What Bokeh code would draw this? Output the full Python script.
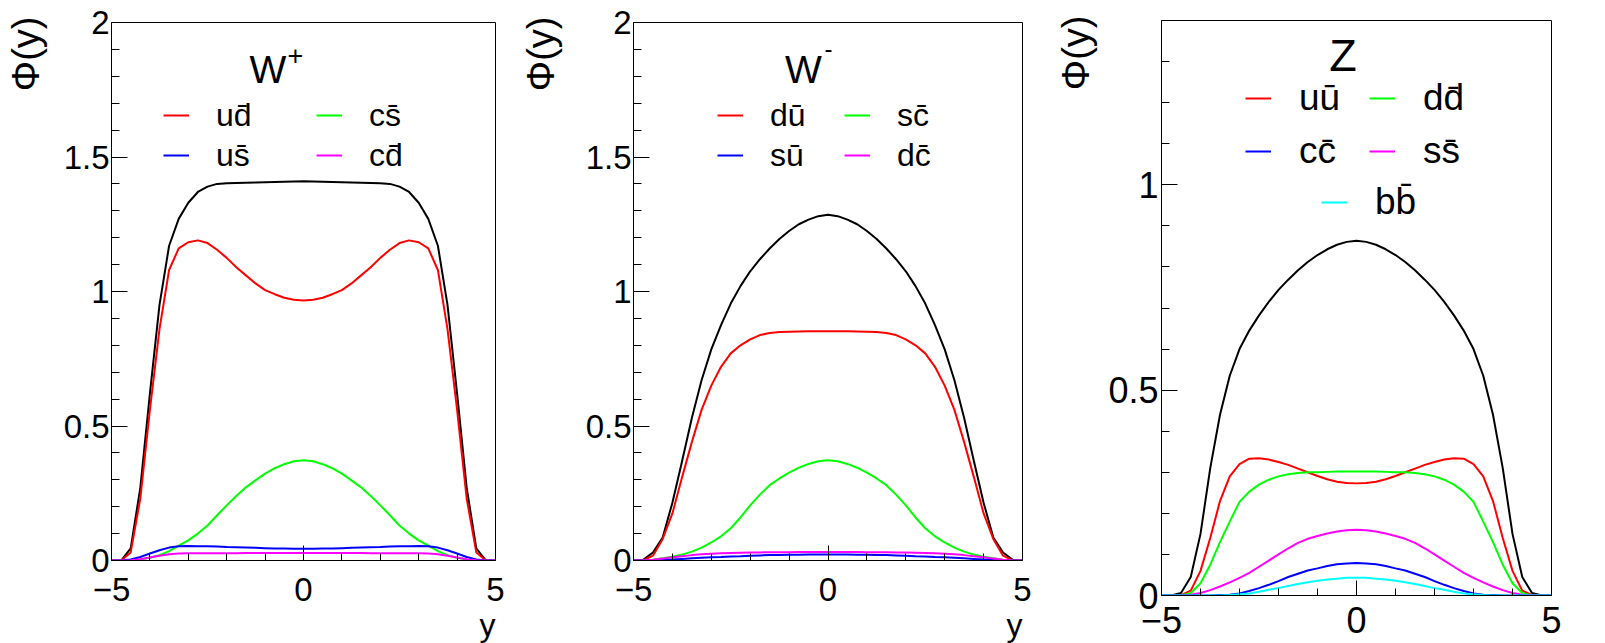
from bokeh.plotting import figure
from bokeh.models import Range1d, FixedTicker, Legend, LegendItem, Label, Title
from bokeh.layouts import row, column
from bokeh.embed import file_html
from bokeh.resources import INLINE

FONT = "Liberation Sans"

# rapidity sample points
RAPIDITY = [-5.0, -4.75, -4.5, -4.25, -4.0, -3.75, -3.5, -3.25, -3.0, -2.75, -2.5,
            -2.25, -2.0, -1.75, -1.5, -1.25, -1.0, -0.75, -0.5, -0.25, 0.0,
            0.25, 0.5, 0.75, 1.0, 1.25, 1.5, 1.75, 2.0, 2.25, 2.5,
            2.75, 3.0, 3.25, 3.5, 3.75, 4.0, 4.25, 4.5, 4.75, 5.0]

# ---- W+ ----
WP_TOTAL = [0, 0, 0.045, 0.27, 0.62, 0.95, 1.17, 1.27, 1.33, 1.37, 1.39, 1.40, 1.402, 1.403, 1.404, 1.405, 1.406, 1.407, 1.408, 1.409, 1.41,
            1.409, 1.408, 1.407, 1.406, 1.405, 1.404, 1.403, 1.402, 1.40, 1.39, 1.37, 1.33, 1.27, 1.17, 0.95, 0.62, 0.27, 0.045, 0, 0]
WP_UD = [0, 0, 0.03, 0.23, 0.56, 0.86, 1.08, 1.16, 1.183, 1.19, 1.18, 1.155, 1.125, 1.09, 1.06, 1.03, 1.005, 0.99, 0.977, 0.969, 0.967,
         0.969, 0.977, 0.99, 1.005, 1.03, 1.06, 1.09, 1.125, 1.155, 1.18, 1.19, 1.183, 1.16, 1.08, 0.86, 0.56, 0.23, 0.03, 0, 0]
WP_CS = [0, 0, 0.001, 0.004, 0.01, 0.02, 0.035, 0.055, 0.075, 0.1, 0.13, 0.168, 0.205, 0.24, 0.272, 0.298, 0.323, 0.343, 0.358, 0.369, 0.373,
         0.369, 0.358, 0.343, 0.323, 0.298, 0.272, 0.24, 0.205, 0.168, 0.13, 0.1, 0.075, 0.055, 0.035, 0.02, 0.01, 0.004, 0.001, 0, 0]
WP_US = [0, 0, 0.004, 0.013, 0.026, 0.038, 0.048, 0.053, 0.054, 0.053, 0.053, 0.052, 0.05, 0.049, 0.048, 0.047, 0.046, 0.045, 0.045, 0.044, 0.044,
         0.044, 0.045, 0.045, 0.046, 0.047, 0.048, 0.049, 0.05, 0.052, 0.053, 0.053, 0.054, 0.053, 0.048, 0.038, 0.026, 0.013, 0.004, 0, 0]
WP_CD = [0, 0, 0.001, 0.005, 0.011, 0.018, 0.023, 0.026, 0.027, 0.027, 0.027, 0.027, 0.027, 0.027, 0.028, 0.028, 0.028, 0.028, 0.028, 0.028, 0.028,
         0.028, 0.028, 0.028, 0.028, 0.028, 0.028, 0.027, 0.027, 0.027, 0.027, 0.027, 0.027, 0.026, 0.023, 0.018, 0.011, 0.005, 0.001, 0, 0]

# ---- W- ----
WM_TOTAL = [0, 0.003, 0.03, 0.085, 0.215, 0.37, 0.53, 0.67, 0.785, 0.875, 0.955, 1.02, 1.075, 1.12, 1.16, 1.195, 1.225, 1.25, 1.267, 1.28, 1.285,
            1.28, 1.267, 1.25, 1.225, 1.195, 1.16, 1.12, 1.075, 1.02, 0.955, 0.875, 0.785, 0.67, 0.53, 0.37, 0.215, 0.085, 0.03, 0.003, 0]
WM_DU = [0, 0, 0.018, 0.08, 0.175, 0.31, 0.44, 0.56, 0.65, 0.72, 0.77, 0.80, 0.822, 0.838, 0.846, 0.849, 0.85, 0.851, 0.852, 0.852, 0.852,
         0.852, 0.852, 0.851, 0.85, 0.849, 0.846, 0.838, 0.822, 0.80, 0.77, 0.72, 0.65, 0.56, 0.44, 0.31, 0.175, 0.08, 0.018, 0, 0]
WM_SC = [0, 0.001, 0.003, 0.008, 0.014, 0.022, 0.033, 0.048, 0.067, 0.09, 0.12, 0.16, 0.205, 0.245, 0.28, 0.305, 0.327, 0.345, 0.359, 0.369, 0.373,
         0.369, 0.359, 0.345, 0.327, 0.305, 0.28, 0.245, 0.205, 0.16, 0.12, 0.09, 0.067, 0.048, 0.033, 0.022, 0.014, 0.008, 0.003, 0.001, 0]
WM_SU = [0, 0, 0.001, 0.002, 0.004, 0.006, 0.008, 0.01, 0.012, 0.013, 0.015, 0.016, 0.018, 0.019, 0.02, 0.02, 0.021, 0.021, 0.022, 0.022, 0.022,
         0.022, 0.022, 0.021, 0.021, 0.02, 0.02, 0.019, 0.018, 0.016, 0.015, 0.013, 0.012, 0.01, 0.008, 0.006, 0.004, 0.002, 0.001, 0, 0]
WM_DC = [0, 0, 0.003, 0.007, 0.012, 0.016, 0.02, 0.023, 0.025, 0.027, 0.028, 0.029, 0.03, 0.03, 0.031, 0.031, 0.031, 0.032, 0.032, 0.032, 0.032,
         0.032, 0.032, 0.032, 0.031, 0.031, 0.031, 0.03, 0.03, 0.029, 0.028, 0.027, 0.025, 0.023, 0.02, 0.016, 0.012, 0.007, 0.003, 0, 0]

# ---- Z ----
Z_TOTAL = [0, 0, 0.006, 0.045, 0.15, 0.31, 0.44, 0.535, 0.60, 0.645, 0.682, 0.715, 0.744, 0.769, 0.792, 0.812, 0.829, 0.843, 0.854, 0.861, 0.864,
           0.861, 0.854, 0.843, 0.829, 0.812, 0.792, 0.769, 0.744, 0.715, 0.682, 0.645, 0.60, 0.535, 0.44, 0.31, 0.15, 0.045, 0.006, 0, 0]
Z_UU = [0, 0, 0.001, 0.012, 0.06, 0.14, 0.23, 0.29, 0.32, 0.333, 0.334, 0.331, 0.325, 0.318, 0.309, 0.30, 0.291, 0.283, 0.277, 0.274, 0.273,
        0.274, 0.277, 0.283, 0.291, 0.30, 0.309, 0.318, 0.325, 0.331, 0.334, 0.333, 0.32, 0.29, 0.23, 0.14, 0.06, 0.012, 0.001, 0, 0]
Z_DD = [0, 0, 0, 0.006, 0.03, 0.075, 0.13, 0.18, 0.228, 0.253, 0.27, 0.282, 0.29, 0.295, 0.298, 0.3, 0.3, 0.301, 0.302, 0.302, 0.302,
        0.302, 0.302, 0.301, 0.3, 0.3, 0.298, 0.295, 0.29, 0.282, 0.27, 0.253, 0.228, 0.18, 0.13, 0.075, 0.03, 0.006, 0, 0, 0]
Z_SS = [0, 0, 0, 0.002, 0.006, 0.013, 0.022, 0.032, 0.043, 0.055, 0.07, 0.085, 0.1, 0.115, 0.128, 0.138, 0.145, 0.151, 0.156, 0.159, 0.16,
        0.159, 0.156, 0.151, 0.145, 0.138, 0.128, 0.115, 0.1, 0.085, 0.07, 0.055, 0.043, 0.032, 0.022, 0.013, 0.006, 0.002, 0, 0, 0]
Z_CC = [0, 0, 0, 0, 0, 0, 0.001, 0.002, 0.005, 0.011, 0.018, 0.026, 0.035, 0.045, 0.053, 0.061, 0.066, 0.072, 0.076, 0.078, 0.079,
        0.078, 0.076, 0.072, 0.066, 0.061, 0.053, 0.045, 0.035, 0.026, 0.018, 0.011, 0.005, 0.002, 0.001, 0, 0, 0, 0, 0, 0]
Z_BB = [0, 0, 0, 0, 0, 0, 0, 0.001, 0.003, 0.005, 0.009, 0.014, 0.018, 0.023, 0.028, 0.032, 0.036, 0.039, 0.041, 0.043, 0.043,
        0.043, 0.041, 0.039, 0.036, 0.032, 0.028, 0.023, 0.018, 0.014, 0.009, 0.005, 0.003, 0.001, 0, 0, 0, 0, 0, 0, 0]

X_MAJOR = [-5, 0, 5]
X_MINOR = [-4, -3, -2, -1, 1, 2, 3, 4]
Y_MAJOR_W = [0, 0.5, 1, 1.5, 2]
Y_LABELS_W = {0: "0", 0.5: "0.5", 1: "1", 1.5: "1.5", 2: "2"}
Y_MINOR_W = [0.1, 0.2, 0.3, 0.4, 0.6, 0.7, 0.8, 0.9, 1.1, 1.2, 1.3, 1.4, 1.6, 1.7, 1.8, 1.9]
Y_MAJOR_Z = [0, 0.5, 1]
Y_LABELS_Z = {0: "0", 0.5: "0.5", 1: "1"}
Y_MINOR_Z = [0.1, 0.2, 0.3, 0.4, 0.6, 0.7, 0.8, 0.9, 1.1, 1.2, 1.3]


def make_panel(width, height, left, right, top, bottom, y_max, y_major, y_labels, y_minor,
               tick_font, xtick_font, xtick_standoff, ytick_standoff, title_gap):
    p = figure(width=width, height=height, x_range=Range1d(-5, 5), y_range=Range1d(0, y_max),
               output_backend="svg", toolbar_location=None,
               min_border_left=left, min_border_right=right,
               min_border_top=top, min_border_bottom=bottom)
    p.xgrid.visible = False
    p.ygrid.visible = False
    p.outline_line_color = "black"
    p.outline_line_width = 1
    p.outline_line_alpha = 1
    p.border_fill_color = "white"
    p.background_fill_color = "white"
    xa = p.xaxis[0]
    ya = p.yaxis[0]
    xa.ticker = FixedTicker(ticks=X_MAJOR, minor_ticks=X_MINOR)
    ya.ticker = FixedTicker(ticks=y_major, minor_ticks=y_minor)
    ya.major_label_overrides = y_labels
    for ax in (xa, ya):
        ax.major_tick_out = 0
        ax.minor_tick_out = 0
        ax.axis_line_color = "black"
        ax.major_tick_line_color = "black"
        ax.minor_tick_line_color = "black"
        ax.major_label_text_font = FONT
        ax.major_label_text_color = "black"
    xa.major_tick_in = 15
    xa.minor_tick_in = 7
    ya.major_tick_in = 16
    ya.minor_tick_in = 8
    ya.major_label_text_font_size = f"{tick_font}px"
    xa.major_label_text_font_size = f"{xtick_font}px"
    ya.major_label_standoff = ytick_standoff
    xa.major_label_standoff = xtick_standoff
    # blank spacer between the tick labels and the rotated axis title
    ya.axis_label = " "
    ya.axis_label_text_font_size = "1px"
    ya.axis_label_standoff = title_gap
    return p


def add_entry(p, renderer, text, x, y_bottom, font_size, item_h, standoff):
    leg = Legend(items=[LegendItem(label=text, renderers=[renderer])], location=(x, y_bottom),
                 border_line_color=None, background_fill_alpha=0, padding=0, margin=0,
                 spacing=0, glyph_width=26, glyph_height=item_h, label_height=item_h,
                 label_standoff=standoff, label_text_font=FONT,
                 label_text_font_size=f"{font_size}px", label_text_color="black")
    p.add_layout(leg)


def add_text(p, text, x, y, size, align="left"):
    p.add_layout(Label(x=x, y=y, x_units="screen", y_units="screen", text=text,
                       text_font=FONT, text_font_size=f"{size}px", text_color="black",
                       text_align=align, text_baseline="middle"))


def add_axis_title(p, text, side, size, offset, standoff):
    p.add_layout(Title(text=text, align="right", text_font=FONT, text_font_size=f"{size}px",
                       text_font_style="normal", text_color="black", offset=offset,
                       standoff=standoff), side)


BAR = "\u0304"

# ---------- panel 1: W+ ----------
p1 = make_panel(515, 643, 111, 20, 22, 81, 2, Y_MAJOR_W, Y_LABELS_W, Y_MINOR_W, 33, 33, 17, 2, 8)
p1.line(RAPIDITY, WP_TOTAL, line_color="black", line_width=2)
r_ud = p1.line(RAPIDITY, WP_UD, line_color="#ff0000", line_width=2)
r_cs = p1.line(RAPIDITY, WP_CS, line_color="#00ff00", line_width=2)
r_us = p1.line(RAPIDITY, WP_US, line_color="#0000ff", line_width=2)
r_cd = p1.line(RAPIDITY, WP_CD, line_color="#ff00ff", line_width=2)
add_entry(p1, r_ud, "ud" + BAR, 52, 420, 32, 50, 27)
add_entry(p1, r_cs, "cs" + BAR, 205, 420, 32, 50, 27)
add_entry(p1, r_us, "us" + BAR, 52, 380, 32, 50, 27)
add_entry(p1, r_cd, "cd" + BAR, 205, 380, 32, 50, 27)
add_text(p1, "W", 156.5, 491.5, 39, align="center")
add_text(p1, "+", 176, 505, 27)
add_axis_title(p1, "\u03a6(y)", "left", 38, -6, 4)
add_axis_title(p1, "y", "below", 32, 0, 2)

# ---------- panel 2: W- ----------
p2 = make_panel(525, 643, 111, 18, 22, 81, 2, Y_MAJOR_W, Y_LABELS_W, Y_MINOR_W, 33, 33, 17, 2, 15)
p2.line(RAPIDITY, WM_TOTAL, line_color="black", line_width=2)
r_du = p2.line(RAPIDITY, WM_DU, line_color="#ff0000", line_width=2)
r_sc = p2.line(RAPIDITY, WM_SC, line_color="#00ff00", line_width=2)
r_su = p2.line(RAPIDITY, WM_SU, line_color="#0000ff", line_width=2)
r_dc = p2.line(RAPIDITY, WM_DC, line_color="#ff00ff", line_width=2)
add_entry(p2, r_du, "du" + BAR, 84, 420, 32, 50, 27)
add_entry(p2, r_sc, "sc" + BAR, 211, 420, 32, 50, 27)
add_entry(p2, r_su, "su" + BAR, 84, 380, 32, 50, 27)
add_entry(p2, r_dc, "dc" + BAR, 211, 380, 32, 50, 27)
add_text(p2, "W", 170, 491.5, 39, align="center")
add_text(p2, "-", 191, 512, 24)
add_axis_title(p2, "\u03a6(y)", "left", 38, -6, 4)
add_axis_title(p2, "y", "below", 32, 0, 2)

# ---------- panel 3: Z ----------
p3 = make_panel(565, 643, 121, 54, 20, 48, 1.4, Y_MAJOR_Z, Y_LABELS_Z, Y_MINOR_Z, 36, 36, 11, 3, 3)
p3.line(RAPIDITY, Z_TOTAL, line_color="black", line_width=2)
r_uu = p3.line(RAPIDITY, Z_UU, line_color="#ff0000", line_width=2)
r_dd = p3.line(RAPIDITY, Z_DD, line_color="#00ff00", line_width=2)
r_ss = p3.line(RAPIDITY, Z_SS, line_color="#ff00ff", line_width=2)
r_cc = p3.line(RAPIDITY, Z_CC, line_color="#0000ff", line_width=2)
r_bb = p3.line(RAPIDITY, Z_BB, line_color="#00ffff", line_width=2)
add_entry(p3, r_uu, "uu" + BAR, 84, 469, 37, 56, 28)
add_entry(p3, r_dd, "dd" + BAR, 208, 469, 37, 56, 28)
add_entry(p3, r_cc, "cc" + BAR, 84, 416, 37, 56, 28)
add_entry(p3, r_ss, "ss" + BAR, 208, 416, 37, 56, 28)
add_entry(p3, r_bb, "bb" + BAR, 160, 365, 37, 56, 28)
add_text(p3, "Z", 181.5, 540.5, 45, align="center")
add_axis_title(p3, "\u03a6(y)", "left", 38, -5, 4)

layout = row(p1, p2, column(p3))
open("out.html", "w").write(file_html(layout, INLINE))
